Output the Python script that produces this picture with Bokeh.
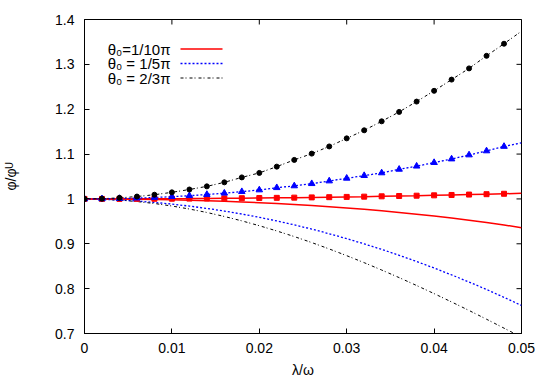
import math
from bokeh.plotting import figure
from bokeh.models import Range1d, FixedTicker, Label, Arrow
from bokeh.embed import file_html
from bokeh.resources import INLINE

# lambda/omega sample points
lam = [0.000, 0.002, 0.004, 0.006, 0.008, 0.010, 0.012, 0.014, 0.016, 0.018,
       0.020, 0.022, 0.024, 0.026, 0.028, 0.030, 0.032, 0.034, 0.036, 0.038,
       0.040, 0.042, 0.044, 0.046, 0.048, 0.050]

# upper branches (with markers)
red_up = [1.0000, 1.0000, 1.0001, 1.0002, 1.0003, 1.0005, 1.0007, 1.0010, 1.0013, 1.0016,
          1.0020, 1.0024, 1.0029, 1.0034, 1.0039, 1.0045, 1.0051, 1.0058, 1.0065, 1.0072,
          1.0080, 1.0088, 1.0097, 1.0106, 1.0115, 1.0125]
blue_up = [1.0000, 1.0002, 1.0008, 1.0018, 1.0032, 1.0050, 1.0072, 1.0098, 1.0128, 1.0162,
           1.0200, 1.0250, 1.0290, 1.0340, 1.0400, 1.0460, 1.0520, 1.0580, 1.0660, 1.0730,
           1.0810, 1.0890, 1.0980, 1.1070, 1.1170, 1.1250]
black_up = [1.0000, 1.0006, 1.0024, 1.0053, 1.0094, 1.0147, 1.0210, 1.0280, 1.0370, 1.0480,
            1.0580, 1.0720, 1.0870, 1.1010, 1.1170, 1.1350, 1.1530, 1.1730, 1.1940, 1.2170,
            1.2410, 1.2660, 1.2910, 1.3190, 1.3460, 1.3740]

# lower branches (lines only)
red_lo = [1.0000, 0.9999, 0.9997, 0.9993, 0.9988, 0.9981, 0.9972, 0.9962, 0.9949, 0.9934,
          0.9917, 0.9898, 0.9877, 0.9853, 0.9827, 0.9799, 0.9768, 0.9735, 0.9699, 0.9660,
          0.9618, 0.9573, 0.9525, 0.9474, 0.9419, 0.9360]
blue_lo = [1.0000, 0.9991, 0.9976, 0.9953, 0.9922, 0.9885, 0.9840, 0.9789, 0.9730, 0.9663,
           0.9590, 0.9509, 0.9422, 0.9327, 0.9224, 0.9115, 0.8998, 0.8875, 0.8744, 0.8605,
           0.8460, 0.8307, 0.8148, 0.7981, 0.7806, 0.7625]
black_lo = [1.0000, 0.9993, 0.9974, 0.9942, 0.9898, 0.9842, 0.9775, 0.9698, 0.9609, 0.9511,
            0.9403, 0.9286, 0.9161, 0.9027, 0.8885, 0.8735, 0.8579, 0.8415, 0.8246, 0.8070,
            0.7889, 0.7703, 0.7513, 0.7318, 0.7119, 0.6920]

x_ticks = [0.0, 0.01, 0.02, 0.03, 0.04, 0.05]
x_tick_labels = ["0", "0.01", "0.02", "0.03", "0.04", "0.05"]
y_ticks = [0.7, 0.8, 0.9, 1.0, 1.1, 1.2, 1.3, 1.4]
y_tick_labels = ["0.7", "0.8", "0.9", "1", "1.1", "1.2", "1.3", "1.4"]
legend_labels = ["θ₀=1/10π", "θ₀ = 1/5π", "θ₀ = 2/3π"]

FONT = "Liberation Sans"
FS = "14px"
RED, BLUE, BLACK = "#ff0000", "#0000ff", "#000000"

p = figure(frame_width=437, frame_height=314,
           x_range=Range1d(0.0, 0.05), y_range=Range1d(0.7, 1.4),
           output_backend="svg", toolbar_location=None,
           min_border_left=81, min_border_right=26, min_border_top=19, min_border_bottom=48)
p.xgrid.visible = False
p.ygrid.visible = False
p.outline_line_color = "black"
p.background_fill_color = "white"
p.border_fill_color = "white"

def style_axis(ax, ticks, labels):
    ax.ticker = FixedTicker(ticks=ticks)
    ax.major_label_overrides = {t: l for t, l in zip(ticks, labels)}
    ax.major_tick_in = 5
    ax.major_tick_out = 0
    ax.minor_tick_line_color = None
    ax.axis_line_color = "black"
    ax.major_tick_line_color = "black"
    ax.major_label_text_font = FONT
    ax.major_label_text_font_size = FS
    ax.major_label_text_color = "black"
    ax.axis_label_text_font = FONT
    ax.axis_label_text_font_style = "normal"
    ax.axis_label_text_font_size = FS
    ax.axis_label_text_color = "black"

xa = p.xaxis[0]
style_axis(xa, x_ticks, x_tick_labels)
xa.axis_label = "λ/ω"
xa.major_label_standoff = 9
xa.axis_label_standoff = 6

ya = p.yaxis[0]
style_axis(ya, y_ticks, y_tick_labels)
ya.axis_label = "φ/φᵁ"
ya.major_label_standoff = 10
ya.axis_label_standoff = 33

# mirrored inward ticks on the top and right borders (clipped to the frame)
p.scatter(x_ticks, [p.y_range.end] * len(x_ticks), marker="dash", angle=math.pi / 2,
          size=10, line_color="black", line_width=1)
p.scatter([p.x_range.end] * len(y_ticks), y_ticks, marker="dash",
          size=10, line_color="black", line_width=1)

styles = [dict(line_color=RED, line_width=1.5),
          dict(line_color=BLUE, line_width=1.3, line_dash="2 2"),
          dict(line_color=BLACK, line_width=1, line_dash="3 2 1 3")]

for ys, st in zip((red_lo, blue_lo, black_lo), styles):
    p.line(lam, ys, **st)
for ys, st in zip((red_up, blue_up, black_up), styles):
    p.line(lam, ys, **st)

p.scatter(lam[:-1], red_up[:-1], marker="square", size=5, color=RED)
p.scatter(lam[:-1], blue_up[:-1], marker="triangle", size=6.5, color=BLUE)
p.scatter(lam[:-1], black_up[:-1], marker="circle", size=5, color=BLACK)

# key (gnuplot style: text on the left, line sample on the right), in screen units
for i, (txt, st) in enumerate(zip(legend_labels, styles)):
    row_y = 284.5 - 14.5 * i
    p.add_layout(Label(x=86, y=row_y, x_units="screen", y_units="screen",
                       text=txt, text_align="right", text_baseline="middle",
                       text_font=FONT, text_font_size="15px", text_color="black"))
    p.add_layout(Arrow(end=None, x_start=96, y_start=row_y, x_end=138, y_end=row_y,
                       start_units="screen", end_units="screen", **st))

open("out.html", "w").write(file_html(p, INLINE))
